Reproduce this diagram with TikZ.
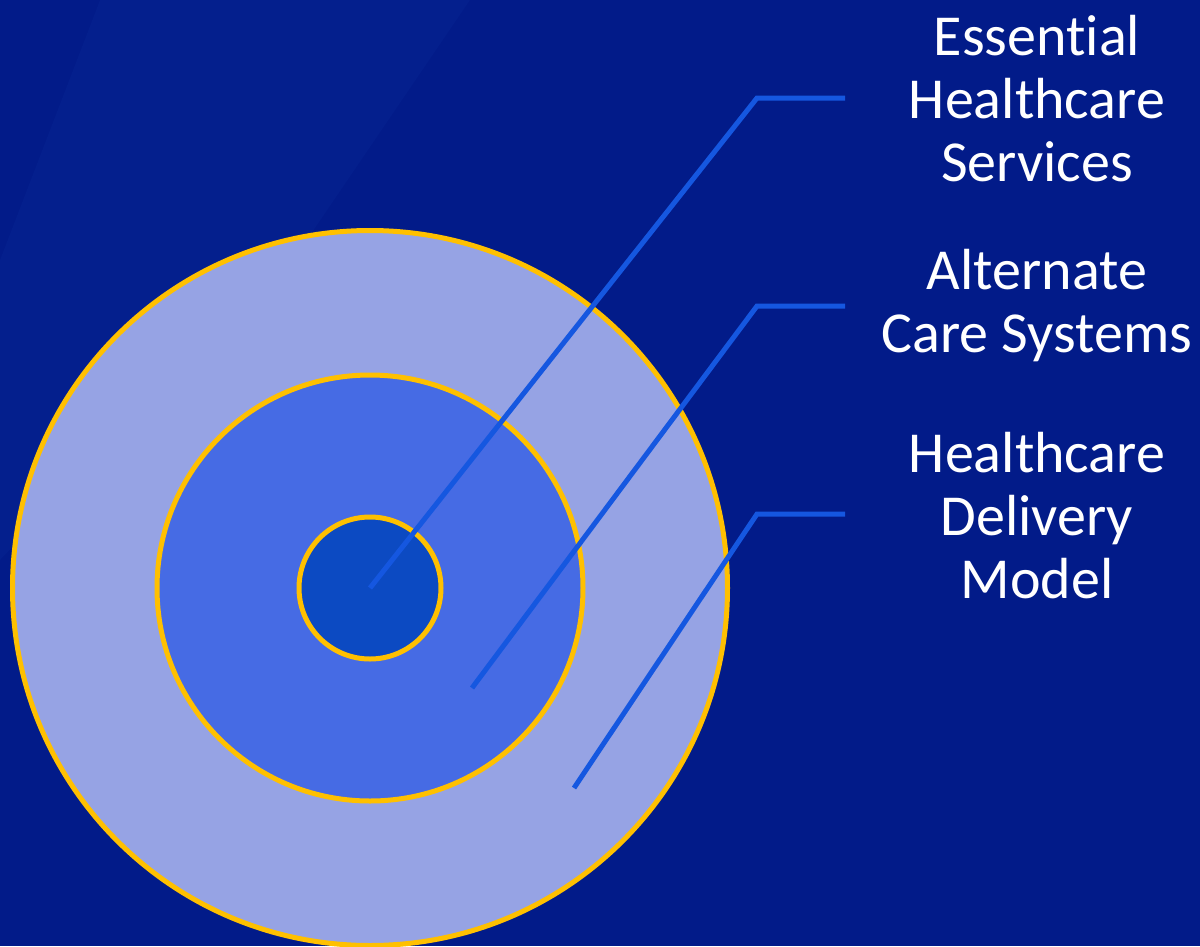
\documentclass[tikz,border=0pt]{standalone}
\usepackage{fontspec}
\setmainfont{Carlito}[Ligatures={NoCommon}]
\definecolor{bgblue}{HTML}{021B89}
\definecolor{bandblue}{HTML}{041F8D}
\definecolor{outerfill}{HTML}{96A3E4}
\definecolor{midfill}{HTML}{466BE4}
\definecolor{innerfill}{HTML}{0C4AC2}
\definecolor{ringyellow}{HTML}{FFC000}
\definecolor{leader}{HTML}{1557E0}
\tikzset{
  ring/.style={circle, draw=ringyellow, line width=5pt, inner sep=0pt},
  leaderline/.style={draw=leader, line width=5pt},
  label/.style={text=white, align=center, font=\fontsize{58pt}{63pt}\selectfont, inner sep=0pt}
}
\begin{document}
\begin{tikzpicture}[x=1pt,y=-1pt]
\useasboundingbox (0,0) rectangle (1200,946);
\clip (0,0) rectangle (1200,946);
\fill[bgblue] (0,0) rectangle (1200,946);
\fill[bandblue] (100,0) -- (470,0) -- (300,250) -- (0,560) -- (0,260) -- cycle;
\node[ring, fill=outerfill, minimum size=715pt] (outer) at (370,588) {};
\node[ring, fill=midfill, minimum size=426pt] (middle) at (370,588) {};
\node[ring, fill=innerfill, minimum size=142pt] (inner) at (370,588) {};
\coordinate (s1) at (inner.center);
\coordinate (s2) at (472,688);
\coordinate (s3) at (574,788);
\coordinate (k1) at (757,98);
\coordinate (k2) at (757,306);
\coordinate (k3) at (757,514);
\coordinate (e1) at (845,98);
\coordinate (e2) at (845,306);
\coordinate (e3) at (845,514);
\draw[leaderline] (s1) -- (k1) -- (e1);
\draw[leaderline] (s2) -- (k2) -- (e2);
\draw[leaderline] (s3) -- (k3) -- (e3);
\node[label] (t1) at (1037,99) {Essential\\Healthcare\\Services};
\node[label] (t2) at (1037,306) {Alternate\\Care Systems};
\node[label] (t3) at (1037,516) {Healthcare\\Delivery\\Model};
\end{tikzpicture}
\end{document}
